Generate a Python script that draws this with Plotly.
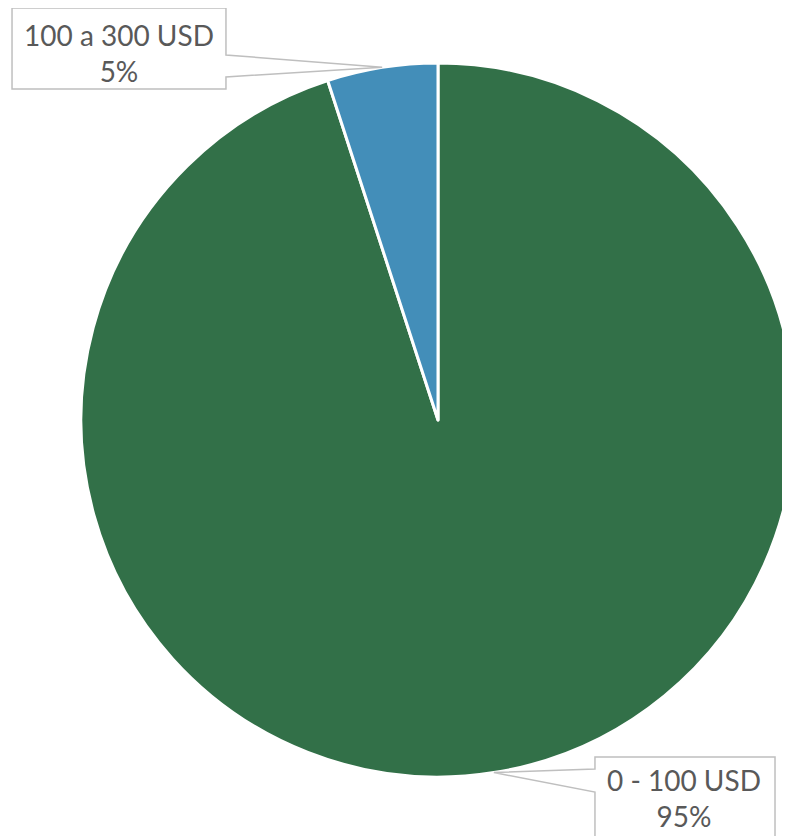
import math
import plotly.graph_objects as go

labels = ["0 - 100 USD", "100 a 300 USD"]
values = [95, 5]
colors = ["#327048", "#438EB9"]

W, H = 790, 836
OFF = 8  # default page margin of the html body
cx, cy, r = 438, 420, 357


def px(x, y):
    # page pixel -> paper coordinates
    return (x - OFF) / W, 1 - (y - OFF) / H


fig = go.Figure()
fig.add_trace(go.Pie(
    labels=labels,
    values=values,
    sort=False,
    direction="clockwise",
    rotation=0,
    marker=dict(colors=colors, line=dict(color="white", width=3)),
    textinfo="none",
    hoverinfo="label+percent",
    showlegend=False,
    domain=dict(x=[(cx - r - OFF) / W, (cx + r - OFF) / W],
                y=[1 - (cy + r - OFF) / H, 1 - (cy - r - OFF) / H]),
))

# slice midpoint angles -> leader tips
total = sum(values)
tips = []
acc = 0
for v in values:
    mid = (acc + v / 2) / total * 2 * math.pi
    tips.append((cx + r * math.sin(mid), cy - r * math.cos(mid)))
    acc += v


def callout(x0, y0, x1, y1, tip, side, a, b):
    # box with an open wedge towards the slice
    tx, ty = tip
    if side == "right":
        pts = [(x0, y0), (x1, y0), (x1, a), (tx, ty), (x1, b), (x1, y1), (x0, y1)]
    else:
        pts = [(x0, y0), (x1, y0), (x1, y1), (x0, y1), (x0, b), (tx, ty), (x0, a)]
    d = "M " + " L ".join("%.4f,%.4f" % px(x, y) for x, y in pts) + " Z"
    fig.add_shape(type="path", path=d, xref="paper", yref="paper",
                  fillcolor="white", line=dict(color="#BFBFBF", width=1.5))


callout(12, 8, 226, 89, tips[1], "right", 55, 77)
callout(595, 757, 775, 860, tips[0], "left", 769, 792)

font = dict(family="Lato, 'Open Sans', sans-serif", size=28, color="#595959")
for (x, y), txt in [((119, 53), labels[1] + "<br>" + "5%"),
                    ((684, 798), labels[0] + "<br>" + "95%")]:
    ax, ay = px(x, y)
    fig.add_annotation(x=ax, y=ay, xref="paper", yref="paper", text=txt,
                       showarrow=False, font=font, align="center",
                       xanchor="center", yanchor="middle")

fig.update_layout(width=W, height=H, margin=dict(l=0, r=0, t=0, b=0),
                  paper_bgcolor="white", plot_bgcolor="white")

fig.write_html("out.html")
